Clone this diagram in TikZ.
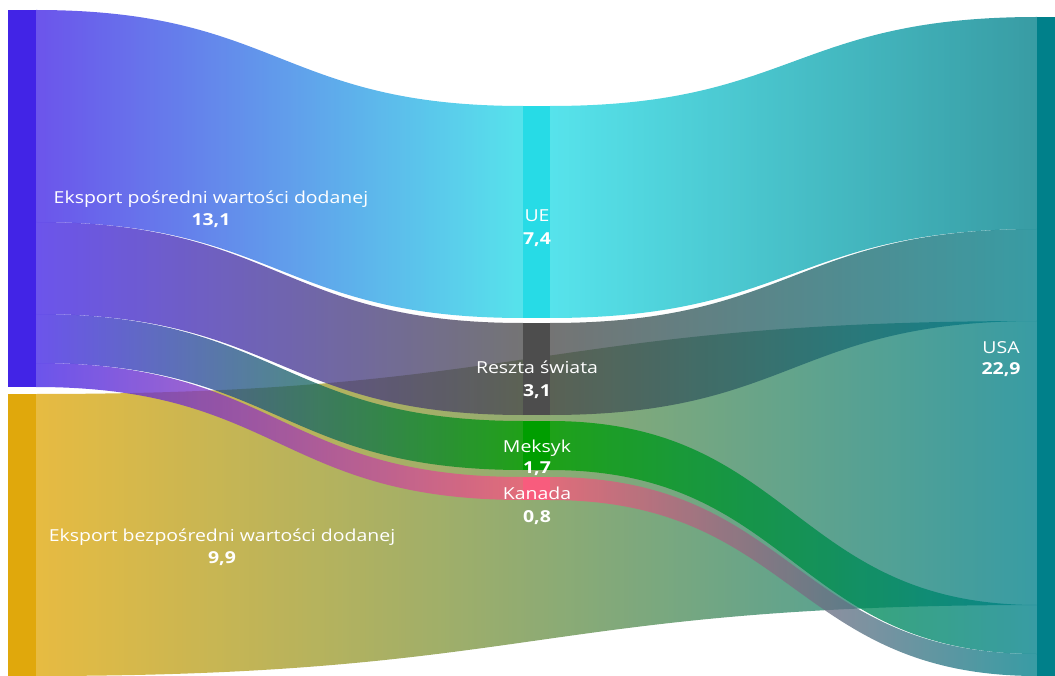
\documentclass[tikz,border=0pt]{standalone}
\usepackage{fontspec}
\setmainfont{Open Sans}
\newfontfamily\lblfont{Open Sans}[FakeStretch=1.18]
\usetikzlibrary{calc}
\definecolor{cpos}{RGB}{66,36,230}
\definecolor{cbez}{RGB}{224,168,12}
\definecolor{cue}{RGB}{39,219,230}
\definecolor{crs}{RGB}{77,77,77}
\definecolor{cmx}{RGB}{0,158,0}
\definecolor{cka}{RGB}{248,92,125}
\definecolor{cusa}{RGB}{0,128,138}
\tikzset{
  sknode/.style={inner sep=0pt, outer sep=0pt, anchor=north west, draw=none},
  band/.style={fill opacity=0.78},
  lbl/.style={text=white, anchor=base, inner sep=0pt, font=\lblfont\fontsize{16.5}{19}\selectfont},
  val/.style={text=white, anchor=base, inner sep=0pt, font=\lblfont\fontsize{16.5}{19}\selectfont\bfseries},
}
% band from node #1 (offsets #2..#3 from its top) to node #4 (offsets #5..#6)
\newcommand{\sankeyband}[8]{%
  \shade[band, left color=#7, right color=#8]
    let \p1=($(#1.north east)+(0,#2)$), \p2=($(#1.north east)+(0,#3)$),
        \p3=($(#4.north west)+(0,#5)$), \p4=($(#4.north west)+(0,#6)$),
        \n1={0.5*\x1+0.5*\x3} in
    (\p1) .. controls (\n1,\y1) and (\n1,\y3) .. (\p3)
    -- (\p4) .. controls (\n1,\y4) and (\n1,\y2) .. (\p2) -- cycle;}
\begin{document}
\begin{tikzpicture}[x=1pt,y=-1pt]
\useasboundingbox (0,0) rectangle (1055,676);
% nodes (geometry only, drawn later on top)
\path (8,10) node[sknode, minimum width=28pt, minimum height=377pt] (pos) {};
\path (8,394) node[sknode, minimum width=28pt, minimum height=282pt] (bez) {};
\path (523,106) node[sknode, minimum width=27pt, minimum height=212pt] (ue) {};
\path (523,323) node[sknode, minimum width=27pt, minimum height=92pt] (rs) {};
\path (523,421) node[sknode, minimum width=27pt, minimum height=49pt] (mx) {};
\path (523,477) node[sknode, minimum width=27pt, minimum height=23pt] (ka) {};
\path (1037,17) node[sknode, minimum width=18pt, minimum height=659pt] (usa) {};
% links
\sankeyband{bez}{0}{282}{usa}{304}{588}{cbez}{cusa}
\sankeyband{pos}{0}{212}{ue}{0}{212}{cpos}{cue}
\sankeyband{pos}{212}{304}{rs}{0}{92}{cpos}{crs}
\sankeyband{pos}{304}{353}{mx}{0}{49}{cpos}{cmx}
\sankeyband{pos}{353}{377}{ka}{0}{23}{cpos}{cka}
\sankeyband{ue}{0}{212}{usa}{0}{212}{cue}{cusa}
\sankeyband{rs}{0}{92}{usa}{212}{304}{crs}{cusa}
\sankeyband{mx}{0}{49}{usa}{588}{637}{cmx}{cusa}
\sankeyband{ka}{0}{23}{usa}{637}{659}{cka}{cusa}
% node fills
\fill[cpos] (pos.north west) rectangle (pos.south east);
\fill[cbez] (bez.north west) rectangle (bez.south east);
\fill[cue] (ue.north west) rectangle (ue.south east);
\fill[crs] (rs.north west) rectangle (rs.south east);
\fill[cmx] (mx.north west) rectangle (mx.south east);
\fill[cka] (ka.north west) rectangle (ka.south east);
\fill[cusa] (usa.north west) rectangle (usa.south east);
% labels
\node[lbl] (posl) at (211,204) {Eksport pośredni wartości dodanej};
\node[val] (posv) at (211,226) {13,1};
\node[lbl] (bezl) at (222,541) {Eksport bezpośredni wartości dodanej};
\node[val] (bezv) at (222,563) {9,9};
\node[lbl] (uel) at (537,222) {UE};
\node[val] (uev) at (537,245) {7,4};
\node[lbl] (rsl) at (537,373) {Reszta świata};
\node[val] (rsv) at (537,396) {3,1};
\node[lbl] (mxl) at (537,452) {Meksyk};
\node[val] (mxv) at (537,473) {1,7};
\node[lbl] (kal) at (537,499) {Kanada};
\node[val] (kav) at (537,522) {0,8};
\node[lbl] (usal) at (1001,353) {USA};
\node[val] (usav) at (1001,374) {22,9};
\end{tikzpicture}
\end{document}
